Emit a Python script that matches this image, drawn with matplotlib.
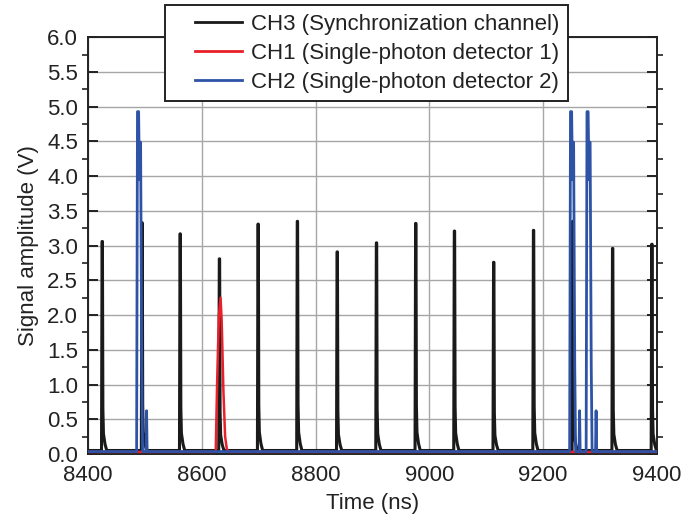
import numpy as np
import matplotlib
matplotlib.use("Agg")
import matplotlib.pyplot as plt
from matplotlib.ticker import MultipleLocator
from matplotlib.legend_handler import HandlerLine2D

plt.rcParams['font.family'] = ['Liberation Sans', 'DejaVu Sans']

# ---- data ----
ch3_peak_times = [8425, 8495, 8562, 8631, 8699, 8768, 8838, 8907, 8976, 9044, 9113, 9183, 9252, 9322, 9391]
ch3_peak_amps = [3.06, 3.33, 3.17, 2.81, 3.31, 3.35, 2.91, 3.04, 3.32, 3.21, 2.76, 3.22, 3.35, 2.96, 3.02]
ch1_peak_times = [8633]
ch1_peak_amps = [2.25]
ch2_peak_times = [8487, 9248, 9277]
ch2_peak_amps = [4.93, 4.93, 4.93]

x_ticks = [8400, 8600, 8800, 9000, 9200, 9400]
y_ticks = [0.0, 0.5, 1.0, 1.5, 2.0, 2.5, 3.0, 3.5, 4.0, 4.5, 5.0, 5.5, 6.0]
labels = ['CH3 (Synchronization channel)', 'CH1 (Single-photon detector 1)',
          'CH2 (Single-photon detector 2)']

# pulse shape templates (time offset in ns, fraction of amplitude above baseline)
sync_shape = [(-1.2, 0.0), (-0.2, 1.0), (0.4, 1.0), (1.2, 0.2), (2.2, 0.08), (5.0, 0.03), (8.0, 0.0)]
spd1_shape = [(-8.5, 0.0), (-6.0, 0.45), (-3.0, 0.88), (0.0, 1.0), (2.0, 0.85), (5.0, 0.4),
              (8.0, 0.1), (11.0, 0.02), (14.0, 0.0)]
spd2_shape = [(-1.5, 0.0), (0.0, 1.0), (2.0, 1.0), (3.5, 0.8), (4.5, 0.91), (5.5, 0.91),
              (7.5, 0.25), (9.0, 0.0), (15.0, 0.0), (16.0, 0.12), (17.0, 0.0)]


def build_trace(times, amps, shape, base, t0=8400, t1=9400):
    xs, ys = [t0], [base]
    for t, a in zip(times, amps):
        for dt, f in shape:
            xs.append(t + dt)
            ys.append(base + (a - base) * f)
    xs.append(t1)
    ys.append(base)
    return np.array(xs), np.array(ys)


class OffsetLineHandler(HandlerLine2D):
    """Legend line drawn only in the right part of the handle box."""
    def get_xdata(self, legend, xdescent, ydescent, width, height, fontsize):
        x0 = -xdescent + width * 0.31
        x1 = -xdescent + width
        return np.array([x0, x1]), np.array([(x0 + x1) / 2])


fig = plt.figure(figsize=(6.83, 5.17), dpi=100)
ax = fig.add_axes([0.1288, 0.1219, 0.8331, 0.8059])

c_black = '#1a1a1a'
c_red = '#e8202a'
c_blue = '#2d52a6'
c_text = '#222222'
FS = 16

x3, y3 = build_trace(ch3_peak_times, ch3_peak_amps, sync_shape, 0.05)
x1, y1 = build_trace(ch1_peak_times, ch1_peak_amps, spd1_shape, 0.03)
x2, y2 = build_trace(ch2_peak_times, ch2_peak_amps, spd2_shape, 0.035)

l3, = ax.plot(x3, y3, color=c_black, lw=2.2, label=labels[0], zorder=3)
l1, = ax.plot(x1, y1, color=c_red, lw=1.8, label=labels[1], zorder=3)
l2, = ax.plot(x2, y2, color=c_blue, lw=2.0, label=labels[2], zorder=4)

ax.set_xlim(8400, 9400)
ax.set_ylim(0, 6.0)
ax.set_xticks(x_ticks)
ax.set_yticks(y_ticks)
ax.set_yticklabels([f'{v:.1f}' for v in y_ticks])
ax.yaxis.set_minor_locator(MultipleLocator(0.25))

ax.grid(True, which='major', color='#a6a6a6', lw=1.0, zorder=0)
ax.set_axisbelow(True)

for s in ax.spines.values():
    s.set_linewidth(1.4)
    s.set_color(c_text)

ax.tick_params(axis='x', which='both', length=0, pad=8, labelsize=FS, colors=c_text)
ax.tick_params(axis='y', which='major', direction='in', length=7, width=1.4,
               left=True, right=True, pad=7, labelsize=FS, colors=c_text)
ax.tick_params(axis='y', which='minor', direction='out', length=4, width=1.2,
               left=True, right=True, colors=c_text)

ax.set_xlabel('Time (ns)', fontsize=FS, color=c_text, labelpad=5)
ax.set_ylabel('Signal amplitude (V)', fontsize=FS, color=c_text, labelpad=6)

handler = OffsetLineHandler()
leg = fig.legend(handles=[l3, l1, l2], loc='upper left', bbox_to_anchor=(0.2416, 0.99),
                 fontsize=FS, frameon=True, fancybox=False, edgecolor=c_text,
                 framealpha=1.0, handlelength=3.1, handletextpad=0.4,
                 labelspacing=0.36, borderpad=0.38, borderaxespad=0,
                 handler_map={l3: handler, l1: handler, l2: handler})
leg.get_frame().set_linewidth(1.4)
for t in leg.get_texts():
    t.set_color(c_text)
for h in leg.legend_handles:
    h.set_linewidth(2.0)

fig.savefig('out.png', dpi=100)
